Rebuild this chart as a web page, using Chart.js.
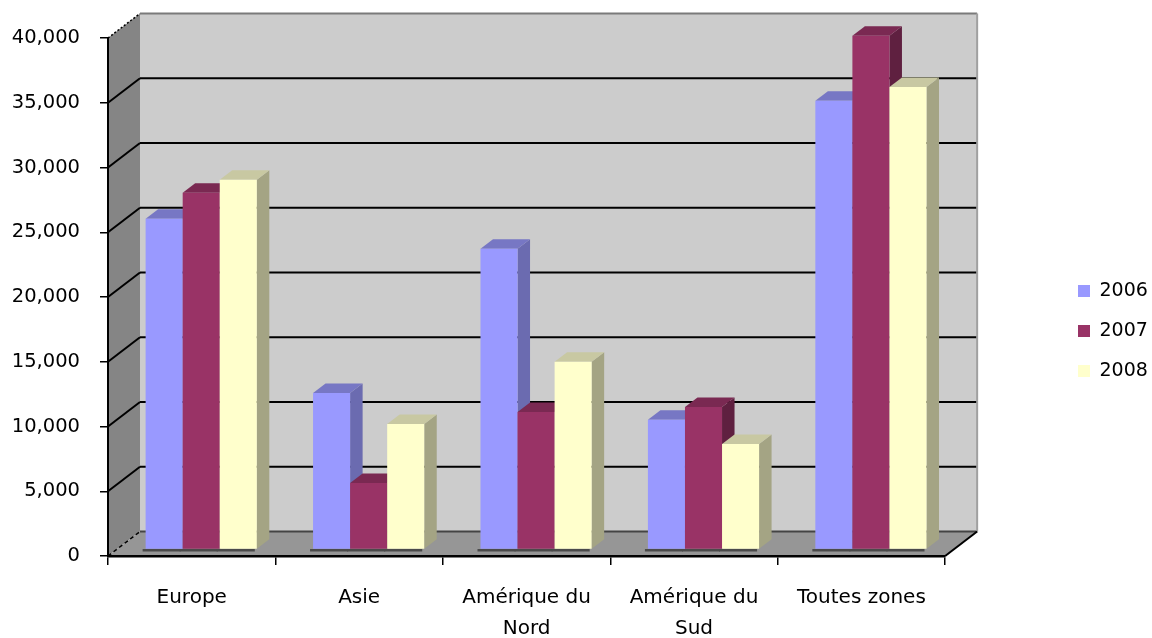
<!DOCTYPE html>
<html>
<head>
<meta charset="utf-8">
<title>Chart</title>
<script src="https://cdn.jsdelivr.net/npm/chart.js@4"></script>
<style>
	html, body { margin: 0; padding: 0; background: #fff; }
	canvas { display: block; }
</style>
</head>
<body>
<canvas id="chart" width="1152" height="638"></canvas>
<script>
const categories = ['Europe', 'Asie', ['Amérique du', 'Nord'], ['Amérique du', 'Sud'], 'Toutes zones'];
const values2006 = [25540, 12090, 23220, 10010, 34660];
const values2007 = [27550, 5140, 10620, 11010, 39680];
const values2008 = [28550, 9700, 14490, 8150, 35720];

const fontFamily = '"DejaVu Sans", sans-serif';

// back wall sits this far from the front plane, bars sit part way in
const wallDepth = { x: 32, y: -24.5 };
const barOffset = { x: 9.5, y: -6.5 };
const barDepth = { x: 12.5, y: -9.5 };

const barShades = [
	{ top: '#7777c4', side: '#6b6bb0' },
	{ top: '#7a2952', side: '#5f2040' },
	{ top: '#c8c8a2', side: '#a4a484' },
];

const fillShape = (ctx, points, color) => {
	ctx.beginPath();
	points.forEach(([x, y], i) => (i ? ctx.lineTo(x, y) : ctx.moveTo(x, y)));
	ctx.closePath();
	ctx.fillStyle = color;
	ctx.fill();
};

const strokeLine = (ctx, x1, y1, x2, y2, color, width, dash = []) => {
	ctx.beginPath();
	ctx.moveTo(x1, y1);
	ctx.lineTo(x2, y2);
	ctx.strokeStyle = color;
	ctx.lineWidth = width;
	ctx.setLineDash(dash);
	ctx.stroke();
	ctx.setLineDash([]);
};

const wallsPlugin = {
	id: 'walls',
	beforeDraw(chart) {
		const { ctx, chartArea: { left, right, top, bottom }, scales: { y } } = chart;
		const dx = wallDepth.x;
		const dy = wallDepth.y;

		ctx.save();
		fillShape(ctx, [[left + dx, top + dy], [right + dx, top + dy], [right + dx, bottom + dy], [left + dx, bottom + dy]], '#cccccc');
		fillShape(ctx, [[left, top], [left + dx, top + dy], [left + dx, bottom + dy], [left, bottom]], '#858585');
		fillShape(ctx, [[left, bottom], [left + dx, bottom + dy], [right + dx, bottom + dy], [right, bottom]], '#969696');

		y.ticks.forEach(({ value }) => {
			const py = y.getPixelForValue(value);
			if (value === y.max) {
				strokeLine(ctx, left, py, left + dx, py + dy, '#000', 1.5, [2, 2]);
				strokeLine(ctx, left + dx, py + dy, right + dx, py + dy, '#7a7a7a', 2);
			} else if (value === y.min) {
				strokeLine(ctx, left, py, left + dx, py + dy, '#000', 1.5, [4, 3]);
				strokeLine(ctx, left + dx, py + dy, right + dx, py + dy, '#444', 2);
			} else {
				strokeLine(ctx, left, py, left + dx, py + dy, '#000', 2);
				strokeLine(ctx, left + dx, py + dy, right + dx, py + dy, '#000', 2);
			}
		});

		strokeLine(ctx, right + dx, top + dy, right + dx, bottom + dy, '#a0a0a0', 2);
		strokeLine(ctx, right, bottom, right + dx, bottom + dy, '#000', 2);
		ctx.restore();
	},
	// left to right so each bar's front covers the side of the one before it
	beforeDatasetsDraw(chart) {
		const { ctx } = chart;

		ctx.save();
		ctx.translate(barOffset.x, barOffset.y);

		chart.data.datasets.forEach((dataset, index) => {
			const meta = chart.getDatasetMeta(index);
			const shade = barShades[index];

			meta.data.forEach((bar) => {
				const { x, y, width, base } = bar.getProps(['x', 'y', 'width', 'base'], true);
				const l = x - width / 2;
				const r = x + width / 2;
				strokeLine(ctx, l - 3, base + 1.5, r - 2, base + 1.5, '#4a4a4a', 2.5);
				fillShape(ctx, [[r, y], [r + barDepth.x, y + barDepth.y], [r + barDepth.x, base + barDepth.y], [r, base]], shade.side);
				fillShape(ctx, [[l, y], [l + barDepth.x, y + barDepth.y], [r + barDepth.x, y + barDepth.y], [r, y]], shade.top);
			});

			meta.controller.draw();
		});

		ctx.restore();
		return false;
	},
	afterLayout(chart) {
		const { legend } = chart;
		const moveX = 1057 - legend.left;
		const moveY = -7;
		legend.left += moveX;
		legend.right += moveX;
		legend.top += moveY;
		legend.bottom += moveY;
	},
};

new Chart(document.getElementById('chart'), {
	type: 'bar',
	plugins: [wallsPlugin],
	data: {
		labels: categories,
		datasets: [
			{ label: '2006', data: values2006, backgroundColor: '#9999ff' },
			{ label: '2007', data: values2007, backgroundColor: '#993366' },
			{ label: '2008', data: values2008, backgroundColor: '#ffffcc' },
		],
	},
	options: {
		responsive: false,
		animation: false,
		layout: { padding: { top: 38, bottom: 0, left: 0, right: 106 } },
		datasets: { bar: { categoryPercentage: 0.664, barPercentage: 1, borderWidth: 0 } },
		plugins: {
			tooltip: { enabled: false },
			legend: {
				position: 'right',
				labels: {
					boxWidth: 12,
					boxHeight: 12,
					padding: 21,
					color: '#000',
					font: { family: fontFamily, size: 19 },
				},
			},
		},
		scales: {
			x: {
				grid: { drawOnChartArea: false, color: '#000', lineWidth: 1.5, tickLength: 9 },
				border: { color: '#000', width: 2.5 },
				ticks: {
					color: '#000',
					padding: 17,
					maxRotation: 0,
					autoSkip: false,
					font: { family: fontFamily, size: 20, lineHeight: 1.55 },
				},
				afterFit: (scale) => {
					scale.height = 82;
				},
			},
			y: {
				min: 0,
				max: 40000,
				grid: { drawOnChartArea: false, color: '#000', lineWidth: 1.5, tickLength: 8 },
				border: { color: '#000', width: 2 },
				ticks: {
					stepSize: 5000,
					color: '#000',
					padding: 20,
					font: { family: fontFamily, size: 19.5 },
					callback: (value) => value.toLocaleString('en-US'),
				},
				afterFit: (scale) => {
					scale.width = 108;
				},
			},
		},
	},
});
</script>
</body>
</html>
